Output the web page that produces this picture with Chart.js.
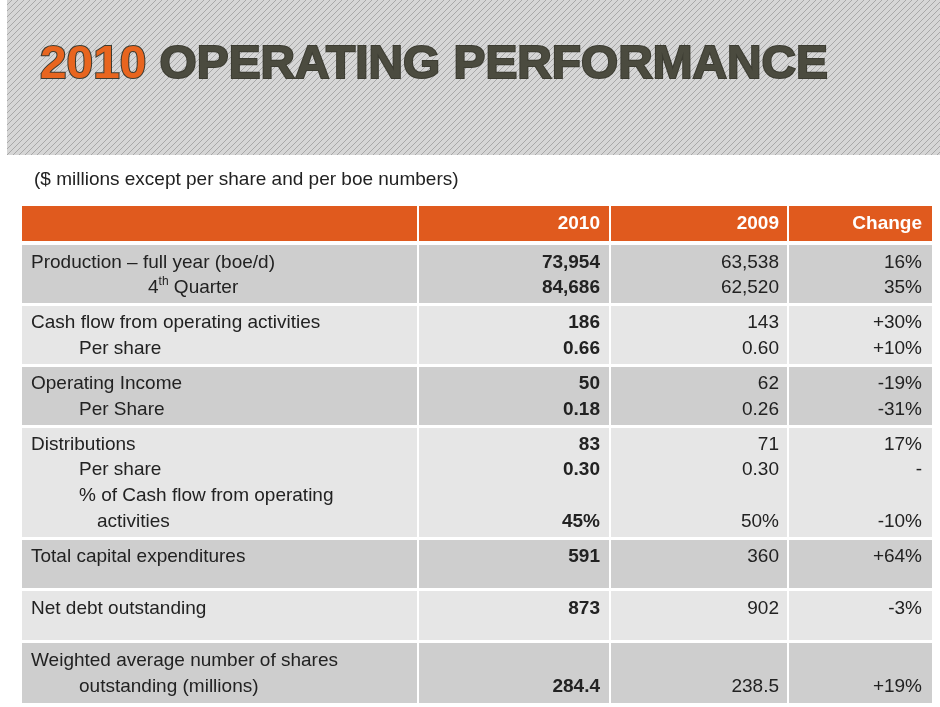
<!DOCTYPE html>
<html><head><meta charset="utf-8">
<script src="https://cdn.jsdelivr.net/npm/chart.js@4"></script>
<style>body{margin:0;background:#fff}canvas{display:block}</style>
</head><body>
<canvas id="tbl" width="940" height="707"></canvas>
<script>
// table content
const titleYear = '2010';
const titleRest = ' OPERATING PERFORMANCE';
const subtitle = '($ millions except per share and per boe numbers)';
const headers = ['', '2010', '2009', 'Change'];
const rowLabels = ['Production – full year (boe/d)', '4th Quarter', 'Cash flow from operating activities', 'Per share',
  'Operating Income', 'Per Share', 'Distributions', 'Per share', '% of Cash flow from operating', 'activities',
  'Total capital expenditures', 'Net debt outstanding', 'Weighted average number of shares', 'outstanding (millions)'];
const values2010 = ['73,954', '84,686', '186', '0.66', '50', '0.18', '83', '0.30', '', '45%', '591', '873', '', '284.4'];
const values2009 = ['63,538', '62,520', '143', '0.60', '62', '0.26', '71', '0.30', '', '50%', '360', '902', '', '238.5'];
const changes = ['16%', '35%', '+30%', '+10%', '-19%', '-31%', '17%', '-', '', '-10%', '+64%', '-3%', '', '+19%'];

// layout (pixel units on the hidden scales)
const lineY = [263, 288, 323, 349, 384, 410, 445, 470, 496, 522, 557, 609, 661, 687];
const lineX = [31, 148, 31, 79, 31, 79, 31, 79, 79, 97, 31, 31, 31, 79];
const bands = [[245, 303], [306, 364], [367, 425], [428, 537], [540, 588], [591, 640], [643, 703]];
const colEdges = [22, 418, 610, 788, 932];
const colRight = [0, 600, 779, 922];
const FONT = '"Liberation Sans", Arial, sans-serif';

const tablePlugin = {
  id: 'table',
  beforeDraw(chart) {
    const c = chart.ctx, X = v => chart.scales.x.getPixelForValue(v), Y = v => chart.scales.y.getPixelForValue(v);
    // hatched banner
    const pc = document.createElement('canvas'); pc.width = 6; pc.height = 6;
    const p = pc.getContext('2d');
    p.fillStyle = '#d6d6d6'; p.fillRect(0, 0, 6, 6);
    p.strokeStyle = '#a8a8a8'; p.lineWidth = 1;
    p.beginPath(); p.moveTo(0, 6); p.lineTo(6, 0); p.moveTo(-1, 1); p.lineTo(1, -1); p.moveTo(5, 7); p.lineTo(7, 5); p.stroke();
    c.fillStyle = c.createPattern(pc, 'repeat');
    c.fillRect(X(7), Y(0), X(940) - X(7), Y(155) - Y(0));
    // title
    c.save();
    c.font = '900 46px ' + FONT; c.textBaseline = 'alphabetic';
    const w1 = c.measureText(titleYear).width, w2 = c.measureText(titleRest).width;
    const sx = (828 - 40) / (w1 + w2);
    c.translate(X(40), Y(78)); c.scale(sx, 1);
    c.lineWidth = 2; c.strokeStyle = '#3d3d33';
    c.fillStyle = '#e8651f'; c.strokeText(titleYear, 0, 0); c.fillText(titleYear, 0, 0);
    c.fillStyle = '#4b4b3f'; c.strokeText(titleRest, w1, 0); c.fillText(titleRest, w1, 0);
    c.restore();
    // subtitle
    c.font = '19px ' + FONT; c.fillStyle = '#222'; c.textBaseline = 'middle'; c.textAlign = 'left';
    c.fillText(subtitle, X(34), Y(180));
    // header row
    c.fillStyle = '#e05a1e';
    c.fillRect(X(22), Y(206), X(932) - X(22), Y(241) - Y(206));
    c.strokeStyle = '#fff'; c.lineWidth = 2;
    c.beginPath();
    for (let i = 1; i < 4; i++) { c.moveTo(X(colEdges[i]), Y(206)); c.lineTo(X(colEdges[i]), Y(241)); }
    c.stroke();
    c.font = 'bold 19px ' + FONT; c.fillStyle = '#fff'; c.textAlign = 'right';
    for (let i = 1; i < 4; i++) c.fillText(headers[i], X(colRight[i]), Y(224));
    // bands
    bands.forEach((b, i) => {
      c.fillStyle = i % 2 ? '#e6e6e6' : '#cecece';
      c.fillRect(X(22), Y(b[0]), X(932) - X(22), Y(b[1]) - Y(b[0]));
      c.beginPath(); c.strokeStyle = '#fff'; c.lineWidth = 2;
      for (let k = 1; k < 4; k++) { c.moveTo(X(colEdges[k]), Y(b[0])); c.lineTo(X(colEdges[k]), Y(b[1])); }
      c.stroke();
    });
    // rows
    c.fillStyle = '#222';
    rowLabels.forEach((lab, i) => {
      const y = Y(lineY[i]);
      c.textAlign = 'left'; c.font = '19px ' + FONT;
      if (lab.startsWith('4th')) {
        let x = X(lineX[i]);
        c.fillText('4', x, y); x += c.measureText('4').width;
        c.font = '12px ' + FONT; c.fillText('th', x, y - 6); x += c.measureText('th').width;
        c.font = '19px ' + FONT; c.fillText(lab.slice(3), x, y);
      } else c.fillText(lab, X(lineX[i]), y);
      c.textAlign = 'right';
      c.font = 'bold 19px ' + FONT; c.fillText(values2010[i], X(colRight[1]), y);
      c.font = '19px ' + FONT; c.fillText(values2009[i], X(colRight[2]), y);
      c.fillText(changes[i], X(colRight[3]), y);
    });
  }
};

new Chart(document.getElementById('tbl'), {
  type: 'scatter',
  data: { datasets: [{ data: [] }] },
  options: {
    responsive: false, animation: false,
    layout: { padding: 0 },
    plugins: { legend: { display: false }, tooltip: { enabled: false } },
    scales: {
      x: { type: 'linear', min: 0, max: 940, display: false },
      y: { type: 'linear', min: 0, max: 707, reverse: true, display: false }
    }
  },
  plugins: [tablePlugin]
});
</script>
</body></html>
